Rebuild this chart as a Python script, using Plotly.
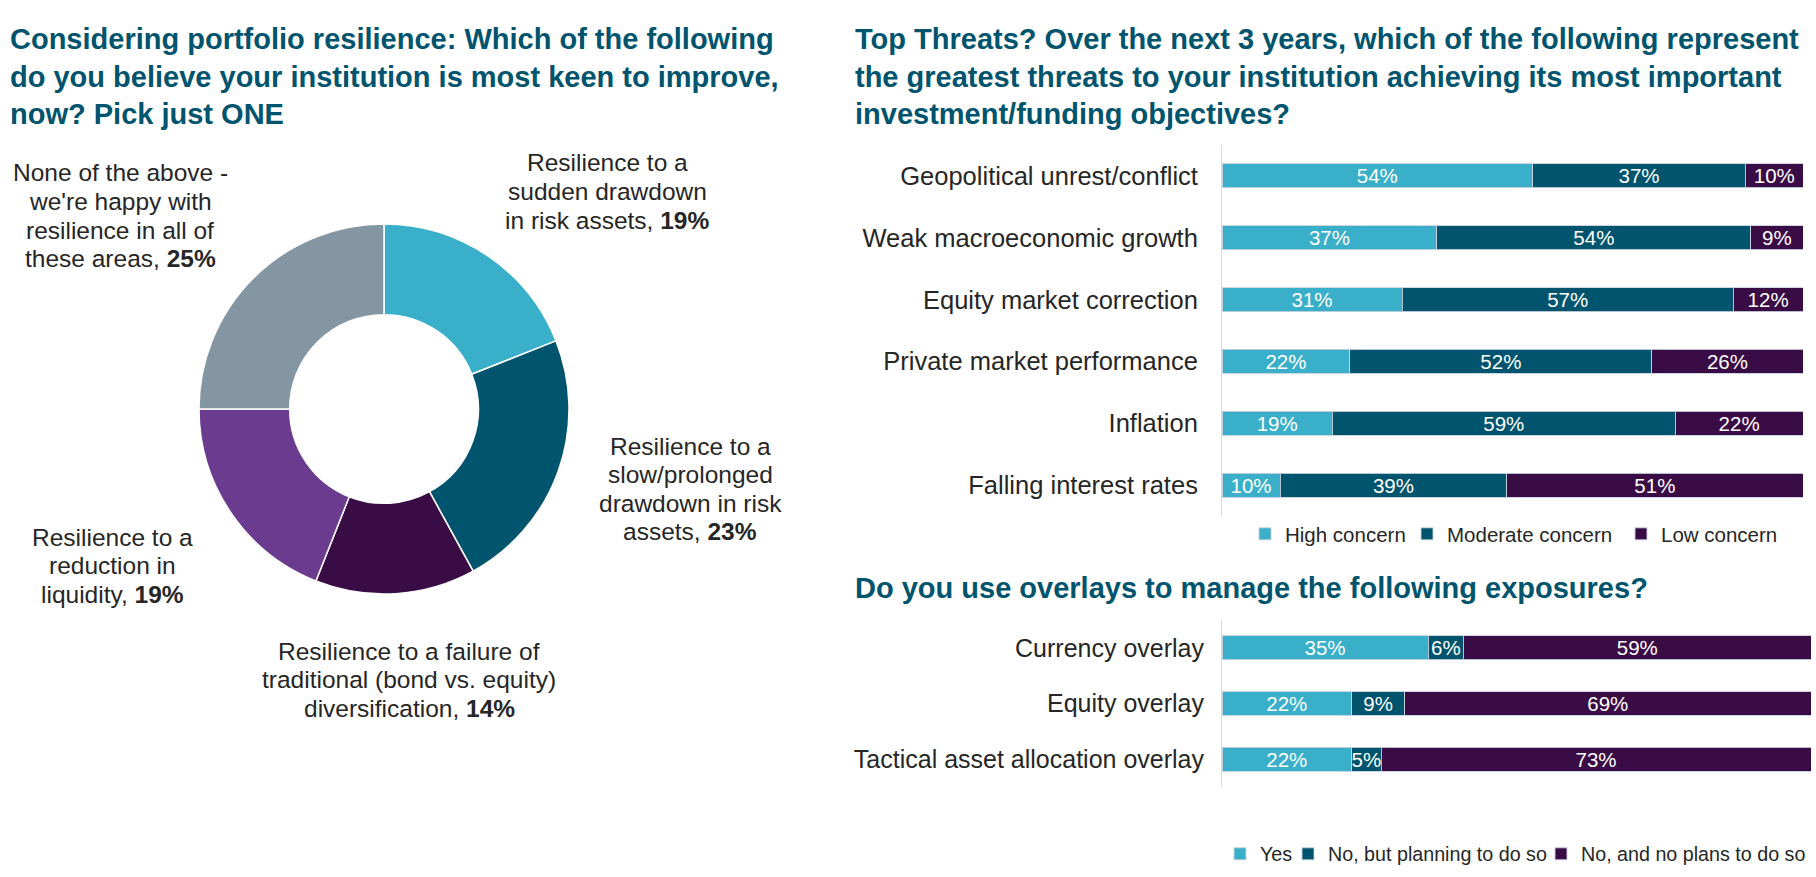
import plotly.graph_objects as go

W, H = 1816, 877

# ---------------- data ----------------
pie_labels = [
    "Resilience to a sudden drawdown in risk assets",
    "Resilience to a slow/prolonged drawdown in risk assets",
    "Resilience to a failure of traditional (bond vs. equity) diversification",
    "Resilience to a reduction in liquidity",
    "None of the above - we're happy with resilience in all of these areas",
]
pie_values = [19, 23, 14, 19, 25]
pie_label_lines = [
    ["Resilience to a", "sudden drawdown", "in risk assets,"],
    ["Resilience to a", "slow/prolonged", "drawdown in risk", "assets,"],
    ["Resilience to a failure of", "traditional (bond vs. equity)", "diversification,"],
    ["Resilience to a", "reduction in", "liquidity,"],
    ["None of the above -", "we're happy with", "resilience in all of", "these areas,"],
]

threat_categories = [
    "Geopolitical unrest/conflict",
    "Weak macroeconomic growth",
    "Equity market correction",
    "Private market performance",
    "Inflation",
    "Falling interest rates",
]
threat_high = [54, 37, 31, 22, 19, 10]
threat_moderate = [37, 54, 57, 52, 59, 39]
threat_low = [10, 9, 12, 26, 22, 51]
threat_series = ["High concern", "Moderate concern", "Low concern"]

overlay_categories = [
    "Currency overlay",
    "Equity overlay",
    "Tactical asset allocation overlay",
]
overlay_yes = [35, 22, 22]
overlay_planning = [6, 9, 5]
overlay_no = [59, 69, 73]
overlay_series = ["Yes", "No, but planning to do so", "No, and no plans to do so"]

title_left = ("Considering portfolio resilience: Which of the following<br>"
              "do you believe your institution is most keen to improve,<br>"
              "now? Pick just ONE")
title_right = ("Top Threats? Over the next 3 years, which of the following represent<br>"
               "the greatest threats to your institution achieving its most important<br>"
               "investment/funding objectives?")
title_overlay = "Do you use overlays to manage the following exposures?"

# ---------------- style ----------------
C_LIGHT = "#3AAFC9"
C_DARK = "#00546E"
C_PURPLE_D = "#3A0C46"
C_PURPLE = "#6A3B8E"
C_GREY = "#8496A2"
TITLE_C = "#00546E"
TEXT_C = "#262626"
FONT = "Arial, Liberation Sans, Helvetica, sans-serif"

pie_colors = [C_LIGHT, C_DARK, C_PURPLE_D, C_PURPLE, C_GREY]
bar_colors = [C_LIGHT, C_DARK, C_PURPLE_D]


def px(x):
    return x / W


def py(y):
    return 1 - y / H


fig = go.Figure()

# ---------------- donut ----------------
cx, cy, r = 384, 409, 185
fig.add_trace(go.Pie(
    labels=pie_labels, values=pie_values, hole=0.51, sort=False,
    direction="clockwise", rotation=0, textinfo="none", hoverinfo="label+percent",
    marker=dict(colors=pie_colors, line=dict(color="white", width=1.5)),
    domain=dict(x=[px(cx - r), px(cx + r)], y=[py(cy + r), py(cy - r)]),
    showlegend=False,
))

# one legend per entry so each entry sits where the reference has it
legend_ids_1 = ["legend", "legend2", "legend3"]
legend_ids_2 = ["legend4", "legend5", "legend6"]

# ---------------- bar chart 1 ----------------
for name, vals, col, lg in zip(threat_series, [threat_high, threat_moderate, threat_low],
                               bar_colors, legend_ids_1):
    fig.add_trace(go.Bar(
        y=threat_categories, x=vals, name=name, orientation="h",
        marker=dict(color=col, line=dict(color="rgba(200,210,220,0.9)", width=1)),
        width=0.39, text=vals, texttemplate="%{text}%", textposition="inside",
        insidetextanchor="middle", textfont=dict(color="white", size=20.5, family=FONT),
        xaxis="x", yaxis="y", legend=lg,
    ))

# ---------------- bar chart 2 ----------------
for name, vals, col, lg in zip(overlay_series, [overlay_yes, overlay_planning, overlay_no],
                               bar_colors, legend_ids_2):
    fig.add_trace(go.Bar(
        y=overlay_categories, x=vals, name=name, orientation="h",
        marker=dict(color=col, line=dict(color="rgba(200,210,220,0.9)", width=1)),
        width=0.43, text=vals, texttemplate="%{text}%", textposition="inside",
        insidetextanchor="middle", textfont=dict(color="white", size=20.5, family=FONT),
        xaxis="x2", yaxis="y2", legend=lg,
    ))

annotations = []
# titles
annotations.append(dict(text=f"<b>{title_left}</b>", x=px(8), y=py(76), xref="paper", yref="paper",
                        xanchor="left", yanchor="middle", align="left", showarrow=False,
                        font=dict(size=29, color=TITLE_C, family=FONT)))
annotations.append(dict(text=f"<b>{title_right}</b>", x=px(853), y=py(76), xref="paper", yref="paper",
                        xanchor="left", yanchor="middle", align="left", showarrow=False,
                        font=dict(size=29, color=TITLE_C, family=FONT)))
annotations.append(dict(text=f"<b>{title_overlay}</b>", x=px(853), y=py(588), xref="paper", yref="paper",
                        xanchor="left", yanchor="middle", align="left", showarrow=False,
                        font=dict(size=29, color=TITLE_C, family=FONT)))

# donut labels (one annotation per line for tight line spacing)
label_pos = [(607, 163), (690, 446), (409, 651), (112, 537), (120, 173)]
LINE_H = 28.5
for lines, val, (lx, ly) in zip(pie_label_lines, pie_values, label_pos):
    for i, line in enumerate(lines):
        t = line
        if i == len(lines) - 1:
            t = f"{line} <b>{val}%</b>"
        annotations.append(dict(text=t, x=px(lx), y=py(ly + i * LINE_H), xref="paper", yref="paper",
                                xanchor="center", yanchor="middle", showarrow=False,
                                font=dict(size=24.5, color=TEXT_C, family=FONT)))

layout_legends = {}
legend_x_1 = [1245, 1407, 1621]
legend_x_2 = [1220, 1288, 1541]
for lg, lx in zip(legend_ids_1, legend_x_1):
    layout_legends[lg] = dict(orientation="h", x=px(lx), xanchor="left", y=py(534), yanchor="middle",
                              font=dict(size=20.5, color=TEXT_C, family=FONT), itemwidth=30,
                              bgcolor="rgba(0,0,0,0)", borderwidth=0)
for lg, lx in zip(legend_ids_2, legend_x_2):
    layout_legends[lg] = dict(orientation="h", x=px(lx), xanchor="left", y=py(854), yanchor="middle",
                              font=dict(size=19.7, color=TEXT_C, family=FONT), itemwidth=30,
                              bgcolor="rgba(0,0,0,0)", borderwidth=0)

fig.update_layout(
    width=W, height=H, margin=dict(l=0, r=0, t=0, b=0),
    paper_bgcolor="white", plot_bgcolor="white",
    barmode="stack", barnorm="percent",
    uniformtext=dict(minsize=20.5, mode="show"),
    font=dict(family=FONT, color=TEXT_C),
    annotations=annotations,
    xaxis=dict(domain=[px(1222), px(1803)], range=[0, 100], visible=False),
    yaxis=dict(domain=[py(516), py(145)], anchor="x", autorange="reversed",
               showline=True, linecolor="#D9D9D9", linewidth=1, ticks="",
               ticklabelstandoff=18, showgrid=False,
               tickfont=dict(size=25.5, color=TEXT_C, family=FONT)),
    xaxis2=dict(domain=[px(1222), px(1811)], range=[0, 100], visible=False, anchor="y2"),
    yaxis2=dict(domain=[py(787), py(620)], anchor="x2", autorange="reversed",
                showline=True, linecolor="#D9D9D9", linewidth=1, ticks="",
                ticklabelstandoff=12, showgrid=False,
                tickfont=dict(size=25, color=TEXT_C, family=FONT)),
    **layout_legends,
)

fig.write_html(
    "out.html",
    config={"displayModeBar": False},
    post_script="document.body.style.margin='0px';document.body.style.overflow='hidden';",
)
